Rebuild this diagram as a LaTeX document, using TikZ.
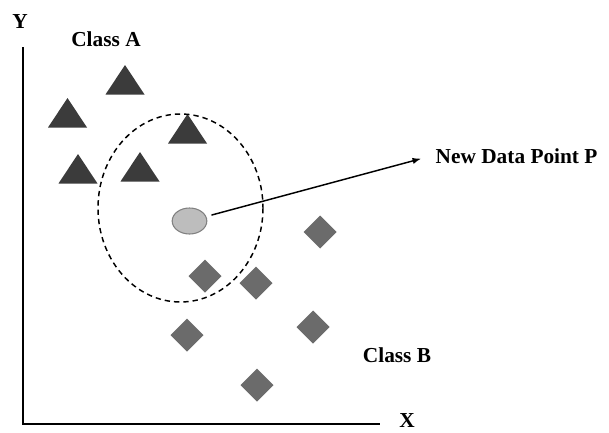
\documentclass[tikz,border=0pt]{standalone}
\usepackage{fontspec}
\setmainfont{Liberation Serif}
\usepackage{tikz}
\usetikzlibrary{arrows,shapes.geometric}

\definecolor{triA}{HTML}{3B3B3B}
\definecolor{diaB}{HTML}{6B6B6B}
\definecolor{ptfill}{HTML}{BDBDBD}

\begin{document}
\begin{tikzpicture}[x=0.75pt, y=-0.75pt,
	lbl/.style = {font=\bfseries\fontsize{16}{19}\selectfont},
	dpoint/.style = {ellipse, draw=gray, line width=0.8pt, fill=ptfill, minimum width=26pt, minimum height=19.5pt, inner sep=0pt},
	ptr/.style = {-latex, line width=1.1pt}]
	\useasboundingbox (0,0) rectangle (609,432);
	% axes
	\draw [line width=1.5pt] (22.7,47) -- (22.7,424) -- (380,424);
	\node [lbl] (ylab) at (20,22) {Y};
	\node [lbl, inner sep=0pt] (xlab) at (407,421) {X};
	% class A
	\foreach \x/\a in {125/65, 67.5/98, 187.5/114, 78/154, 140/152}
		\fill [triA] (\x,\a) -- ++(19.5,29.5) -- ++(-39,0) -- cycle;
	\node [lbl] (clsA) at (106,39) {Class A};
	% class B
	\foreach \x/\y in {320/232, 205/276, 256/283, 187/335, 313/327, 257/385}
		\fill [diaB] (\x,\y) ++(0,-16.5) -- ++(16.5,16.5) -- ++(-16.5,16.5) -- ++(-16.5,-16.5) -- cycle;
	\node [lbl] (clsB) at (397,355) {Class B};
	% neighbourhood
	\draw [dashed, line width=1.1pt, dash pattern=on 4pt off 3pt] (180.5,208) ellipse (82.5 and 94);
	\node [dpoint] (p) at (189.5,221) {};
	\node [lbl, anchor=west] (plab) at (431,156) {New Data Point P};
	\draw [ptr, shorten <=4pt, shorten >=8pt] (p) -- (plab.west);
\end{tikzpicture}
\end{document}
